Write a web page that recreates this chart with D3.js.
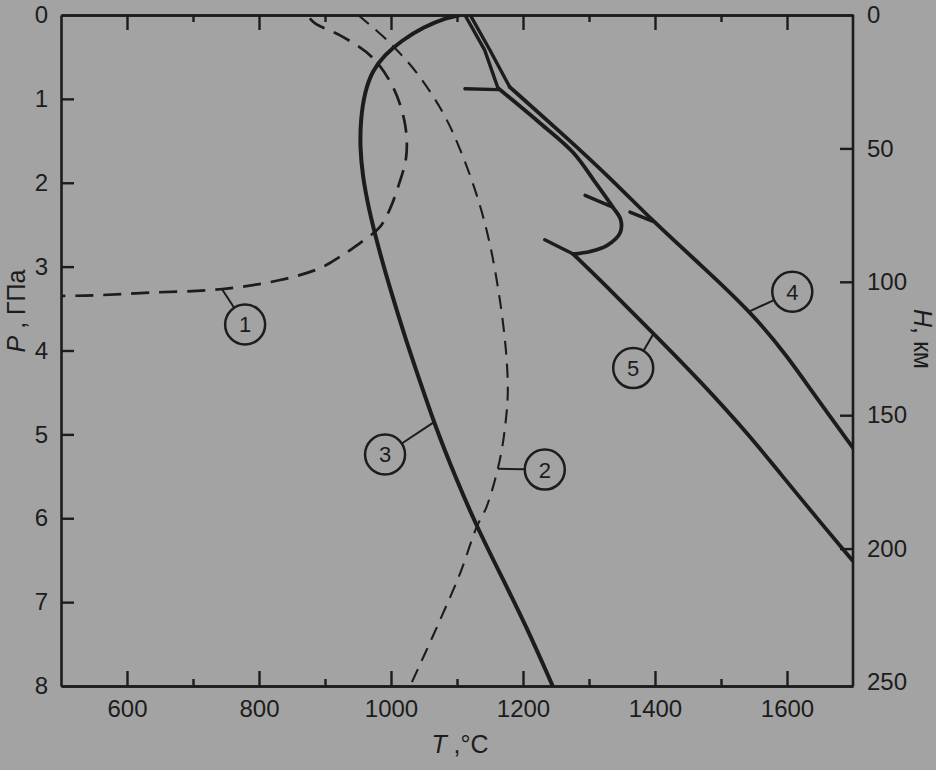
<!DOCTYPE html>
<html><head><meta charset="utf-8">
<script src="https://cdn.jsdelivr.net/npm/d3@7"></script>
<style>
html,body{margin:0;padding:0;background:#a3a3a3;}
svg{display:block;}
text{font-family:"Liberation Sans", Arial, sans-serif; fill:#1c1c1c;}
</style></head><body>
<svg id="chart" width="936" height="770"></svg>
<script>
// ---- axis ticks ----
const tMajorTicks = [600, 800, 1000, 1200, 1400, 1600];
const tMinorTicks = [700, 900, 1100, 1300, 1500];
const pTicks = [0, 1, 2, 3, 4, 5, 6, 7, 8];
const hTicks = [0, 50, 100, 150, 200, 250];

// ---- curves: [T (°C), P (GPa)] ----
const curve1 = [[877,0.04],[885,0.10],[927,0.26],[971,0.50],[1003,0.86],[1021,1.29],[1023,1.69],[1009,2.09],[998,2.32],[983,2.53],[953,2.72],[923,2.88],[892,3.02],[832,3.16],[741,3.27],[635,3.31],[559,3.34],[500,3.35]];
const curve2 = [[950,0.0],[994,0.30],[1039,0.69],[1079,1.17],[1105,1.61],[1132,2.20],[1150,2.74],[1165,3.40],[1174,3.99],[1177,4.47],[1174,4.83],[1165,5.30],[1145,5.86],[1130,6.10],[1105,6.65],[1070,7.29],[1029,8.0]];
const curve3 = [[1105,0],[1085,0.03],[1050,0.14],[1015,0.31],[990,0.48],[972,0.66],[960,0.92],[954,1.25],[953,1.57],[957,1.92],[966,2.30],[980,2.75],[1000,3.30],[1022,3.86],[1044,4.37],[1067,4.90],[1097,5.50],[1130,6.10],[1166,6.67],[1205,7.29],[1245,8.0]];
const curve4Top = [[1120,0],[1150,0.42],[1180,0.86]];
const curve4 = [[1180,0.86],[1256,1.39],[1332,1.94],[1397,2.46],[1468,2.97],[1544,3.53],[1600,4.06],[1645,4.57],[1700,5.16]];
const branchTop = [[1112,0],[1142,0.42],[1162,0.87]];
const branchHook = [[1162,0.87],[1226,1.29],[1276,1.64],[1309,1.99],[1336,2.29],[1348,2.44],[1347,2.60],[1327,2.75],[1302,2.82],[1276,2.85]];
const curve5 = [[1276,2.85],[1317,3.16],[1403,3.84],[1468,4.36],[1544,5.02],[1589,5.46],[1655,6.09],[1700,6.51]];
const barbs = [
  [[1112,0.88],[1162,0.89]],
  [[1294,2.15],[1336,2.29]],
  [[1362,2.35],[1397,2.46]],
  [[1233,2.68],[1276,2.85]]
];

// ---- numbered callouts ----
const labelIds = ["1","2","3","4","5"];
const labelCenters = [[779,3.69],[1233,5.42],[991,5.24],[1608,3.30],[1367,4.21]];
const labelAnchors = [[744,3.27],[1162,5.41],[1064,4.86],[1544,3.53],[1397,3.81]];

// ---- layout ----
const svg = d3.select("#chart");
const L = 61, R = 853, T0 = 15, B = 686;
const x = d3.scaleLinear().domain([500, 1700]).range([L, R]);
const y = d3.scaleLinear().domain([0, 8]).range([T0, B]);
const yH = d3.scaleLinear().domain([0, 250]).range([T0, 682]);
const ink = "#1c1c1c";

svg.append("defs").append("clipPath").attr("id","plot")
  .append("rect").attr("x",L).attr("y",T0).attr("width",R-L).attr("height",B-T0);

const fs = 24;
function styleAxis(g, showText){
  g.selectAll(".domain").attr("stroke", ink).attr("stroke-width", 2.6);
  g.selectAll(".tick line").attr("stroke", ink).attr("stroke-width", 2.4);
  g.selectAll("text").attr("font-size", fs).attr("font-family", '"Liberation Sans", Arial, sans-serif').attr("fill", ink);
  if(!showText) g.selectAll("text").remove();
}

// bottom
const gb = svg.append("g").attr("transform",`translate(0,${B})`)
  .call(d3.axisBottom(x).tickValues(tMajorTicks).tickSize(-15).tickSizeOuter(0).tickPadding(14).tickFormat(d3.format("d")));
styleAxis(gb, true);
const gbm = svg.append("g").attr("transform",`translate(0,${B})`)
  .call(d3.axisBottom(x).tickValues(tMinorTicks).tickSize(-7).tickSizeOuter(0));
styleAxis(gbm, false);
// top
const gt = svg.append("g").attr("transform",`translate(0,${T0})`)
  .call(d3.axisTop(x).tickValues(tMajorTicks).tickSize(-15).tickSizeOuter(0));
styleAxis(gt, false);
const gtm = svg.append("g").attr("transform",`translate(0,${T0})`)
  .call(d3.axisTop(x).tickValues(tMinorTicks).tickSize(-7).tickSizeOuter(0));
styleAxis(gtm, false);
// left
const gl = svg.append("g").attr("transform",`translate(${L},0)`)
  .call(d3.axisLeft(y).tickValues(pTicks).tickSize(-13).tickSizeOuter(0).tickPadding(13));
styleAxis(gl, true);
gl.selectAll(".tick").filter(d => d===0 || d===8).select("line").remove();
// right
const gr = svg.append("g").attr("transform",`translate(${R},0)`)
  .call(d3.axisRight(yH).tickValues(hTicks).tickSize(-13).tickSizeOuter(0).tickPadding(14));
styleAxis(gr, true);
gr.selectAll(".tick").filter(d => d===0 || d===250).select("line").remove();
gr.select(".domain").attr("d", `M0,${T0}V${B}`);

// axis titles
const tt = svg.append("text").attr("x", 460).attr("y", 753).attr("text-anchor","middle").attr("font-size", 25);
tt.append("tspan").attr("font-style","italic").text("T");
tt.append("tspan").text(" ,°C");

const pt = svg.append("text").attr("transform","translate(25,311) rotate(-90)").attr("text-anchor","middle").attr("font-size", 25);
pt.append("tspan").attr("font-style","italic").text("P");
pt.append("tspan").text(" , ГПа");

const ht = svg.append("text").attr("transform","translate(914,339) rotate(90)").attr("text-anchor","middle").attr("font-size", 25);
ht.append("tspan").attr("font-style","italic").text("H");
ht.append("tspan").text(", км");

// curves
const plot = svg.append("g").attr("clip-path","url(#plot)");
const smooth = d3.line().x(d => x(d[0])).y(d => y(d[1])).curve(d3.curveCatmullRom.alpha(0.5));
const soft = d3.line().x(d => x(d[0])).y(d => y(d[1])).curve(d3.curveBasis);
const straight = d3.line().x(d => x(d[0])).y(d => y(d[1]));

plot.append("path").attr("d", smooth(curve1)).attr("fill","none").attr("stroke",ink)
  .attr("stroke-width",2.7).attr("stroke-dasharray","18,10");
plot.append("path").attr("d", smooth(curve2)).attr("fill","none").attr("stroke",ink)
  .attr("stroke-width",2.1).attr("stroke-dasharray","14,9");
plot.append("path").attr("d", soft(curve3)).attr("fill","none").attr("stroke",ink)
  .attr("stroke-width",4).attr("stroke-linecap","round");
[curve4Top, branchTop].forEach(c => plot.append("path").attr("d", straight(c)).attr("fill","none")
  .attr("stroke",ink).attr("stroke-width",3.4).attr("stroke-linecap","round"));
[curve4, curve5].forEach(c => plot.append("path").attr("d", soft(c)).attr("fill","none")
  .attr("stroke",ink).attr("stroke-width",3.8).attr("stroke-linecap","round"));
plot.append("path").attr("d", smooth(branchHook)).attr("fill","none")
  .attr("stroke",ink).attr("stroke-width",3.8).attr("stroke-linecap","round").attr("stroke-linejoin","round");
barbs.forEach(c => plot.append("path").attr("d", straight(c)).attr("fill","none")
  .attr("stroke",ink).attr("stroke-width",3.4).attr("stroke-linecap","round"));

// callouts
const r = 20;
labelIds.forEach((id, i) => {
  const cx = x(labelCenters[i][0]), cy = y(labelCenters[i][1]);
  const ax = x(labelAnchors[i][0]), ay = y(labelAnchors[i][1]);
  const dx = ax - cx, dy = ay - cy, len = Math.hypot(dx, dy);
  svg.append("line").attr("x1", ax).attr("y1", ay)
    .attr("x2", cx + dx / len * r).attr("y2", cy + dy / len * r)
    .attr("stroke", ink).attr("stroke-width", 2);
  svg.append("circle").attr("cx", cx).attr("cy", cy).attr("r", r)
    .attr("fill","none").attr("stroke", ink).attr("stroke-width", 2.5);
  svg.append("text").attr("x", cx).attr("y", cy).attr("dy","0.36em")
    .attr("text-anchor","middle").attr("font-size", 22).text(id);
});
</script>
</body></html>
